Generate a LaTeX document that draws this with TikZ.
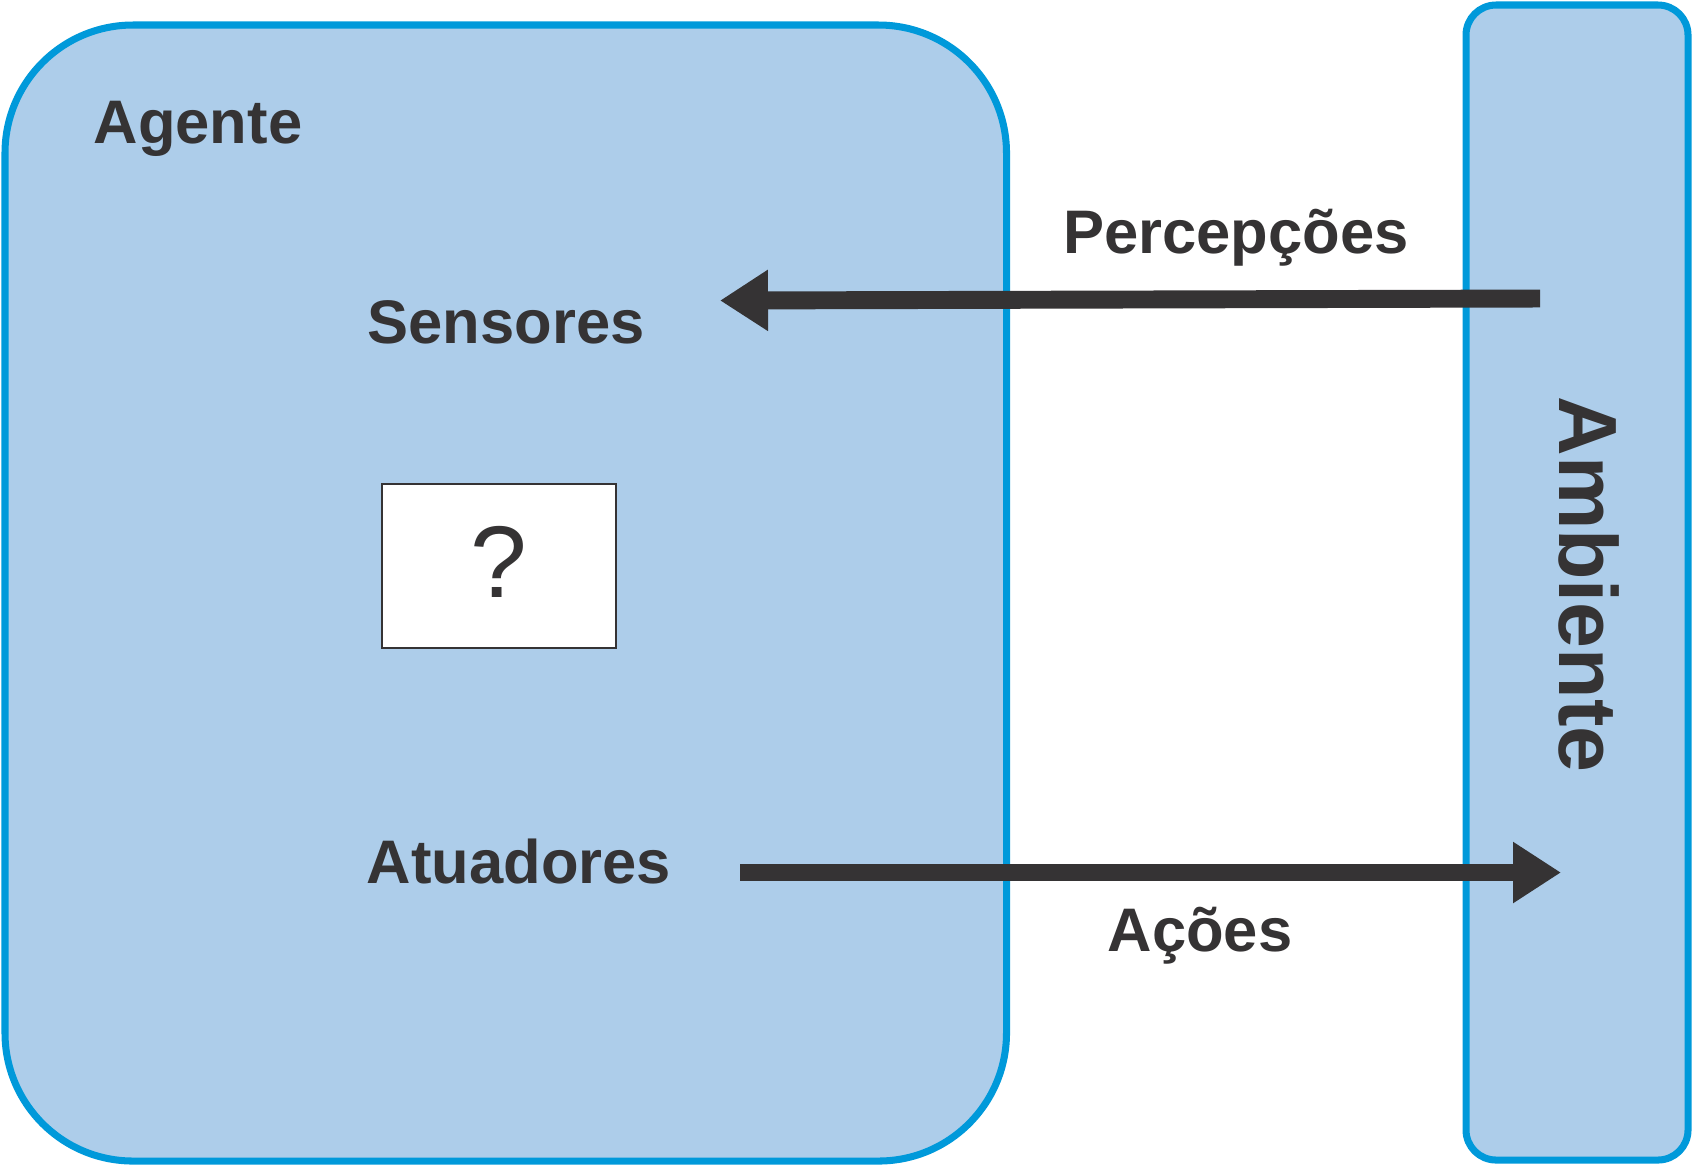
\documentclass[tikz,border=0pt]{standalone}
\usepackage{fontspec}
\setmainfont{Liberation Sans}
\usetikzlibrary{arrows.meta}

\definecolor{boxfill}{HTML}{ADCDEA}
\definecolor{boxline}{HTML}{0099DA}
\definecolor{ink}{HTML}{353334}

\begin{document}
\begin{tikzpicture}[
    label/.style={text=ink, font=\fontsize{17.5}{21}\selectfont\bfseries, inner sep=0pt, anchor=base},
    flow/.style={draw=ink, line width=5.1pt, -{Triangle[length=4.8mm, width=5.8mm]}}
  ]
    \useasboundingbox (0, 0) rectangle (16.95, -11.65);

    \draw[draw=boxline, fill=boxfill, line width=2pt, rounded corners=1.28cm] (0.05, -0.25) rectangle (10.065, -11.61);
    \draw[draw=boxline, fill=boxfill, line width=2pt, rounded corners=0.3cm] (14.66, -0.05) rectangle (16.88, -11.60);

    \node[draw=ink, fill=white, line width=0.6pt, minimum width=2.34cm, minimum height=1.64cm] (mind) at (4.99, -5.66) {\fontsize{29}{34}\selectfont\textcolor{ink}{\raisebox{0.8mm}{?}}};

    \node[label] (agente) at (1.98, -1.43) {Agente};
    \node[label] (sensores) at (5.06, -3.43) {Sensores};
    \node[label] (atuadores) at (5.19, -8.83) {Atuadores};
    \node[label] (percepcoes) at (12.36, -2.53) {Percepções};
    \node[label] (acoes) at (12.00, -9.51) {Ações};
    \node[label, rotate=-90, font=\fontsize{23.5}{28}\selectfont\bfseries] (ambiente) at (15.59, -5.845) {Ambiente};

    \coordinate (percIn) at (15.40, -2.985);
    \coordinate (percOut) at (7.20, -3.005);
    \coordinate (acaoIn) at (7.40, -8.725);
    \coordinate (acaoOut) at (15.61, -8.725);

    \draw[flow] (percIn) -- (percOut);
    \draw[flow] (acaoIn) -- (acaoOut);
\end{tikzpicture}
\end{document}
